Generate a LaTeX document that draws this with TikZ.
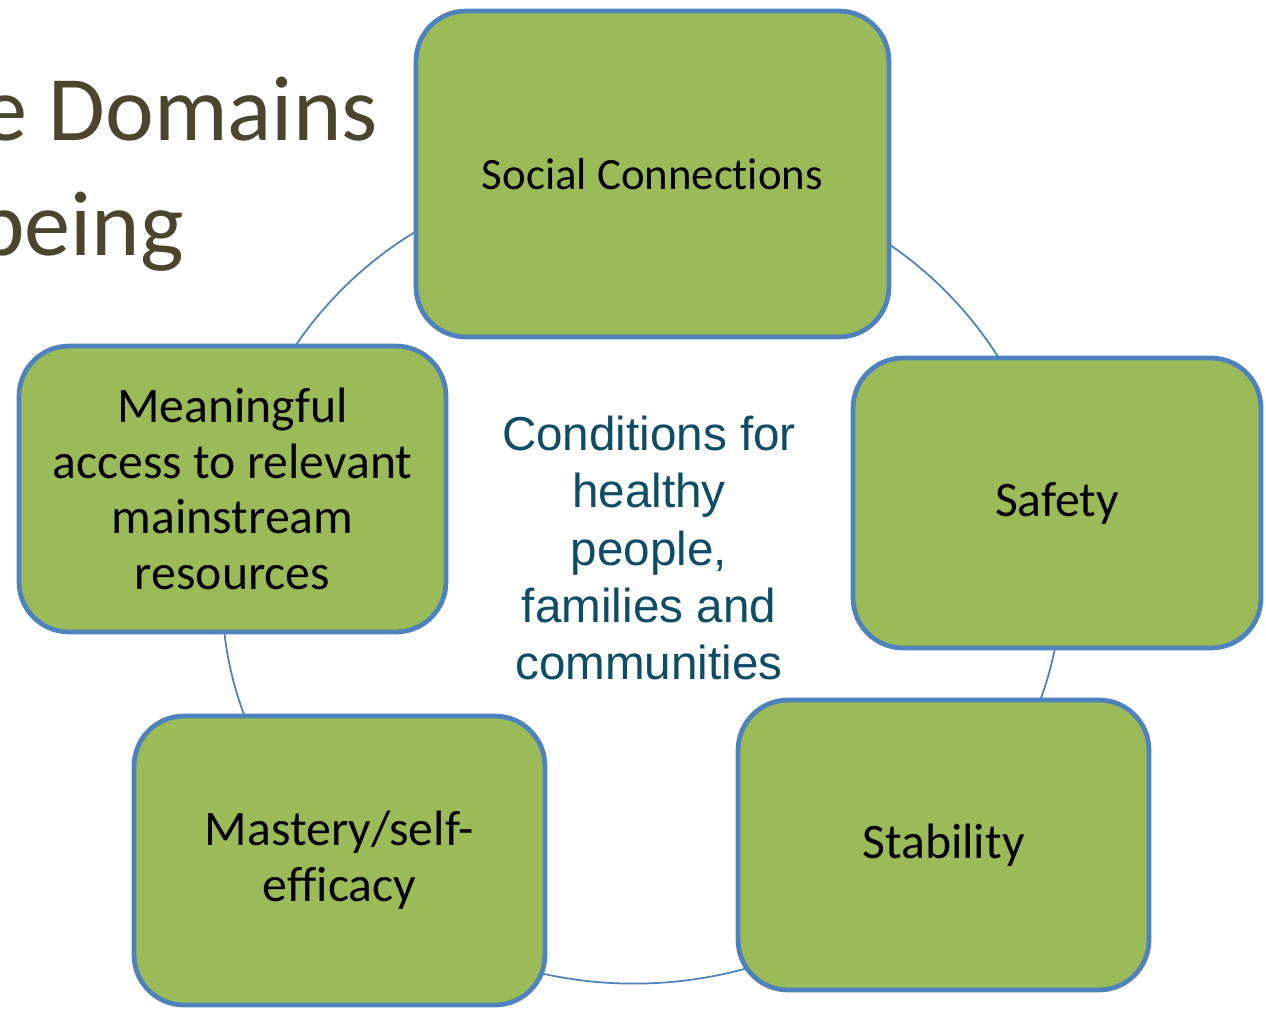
\documentclass[tikz,border=0pt]{standalone}
\usepackage{fontspec}
\setmainfont{Carlito}[Ligatures=NoCommon]
\newfontfamily\arialfont{Liberation Sans}
\usetikzlibrary{backgrounds}
\definecolor{boxgreen}{HTML}{9BBB59}
\definecolor{boxblue}{HTML}{4F81BD}
\definecolor{titleolive}{HTML}{4A452C}
\definecolor{centerteal}{HTML}{0E4C66}

\begin{document}
\begin{tikzpicture}[x=0.02cm, y=-0.02cm,
  domainbox/.style={draw=boxblue, fill=boxgreen, line width=2.7pt,
    rounded corners=1cm, align=center, inner sep=0pt, text=black,
    font=\fontsize{28.3}{31.7}\selectfont},
  link/.style={draw=boxblue, line width=1pt, bend left=#1},
  titletext/.style={anchor=base east, inner sep=0pt, text=titleolive,
    font=\fontsize{52.5}{60}\selectfont},
]
\useasboundingbox (0,0) rectangle (1266,1009);
\clip (0,0) rectangle (1266,1009);

% slide title, running off the left edge
\node[titletext] (title1) at (378,140) {e Domains};
\node[titletext] (title2) at (184,255) {being};

% the five domains
\node[domainbox, minimum width=9.46cm, minimum height=6.52cm,
  font=\fontsize{25.5}{30}\selectfont] (soc) at (652.5,174) {Social Connections};
\node[domainbox, minimum width=8.16cm, minimum height=5.8cm] (saf) at (1057,503) {Safety};
\node[domainbox, minimum width=8.22cm, minimum height=5.8cm] (stab) at (943.5,845) {Stability};
\node[domainbox, minimum width=8.22cm, minimum height=5.78cm] (mast) at (339.5,860.5) {Mastery/self-\\efficacy};
\node[domainbox, minimum width=8.54cm, minimum height=5.72cm] (mean) at (232.5,489)
  {Meaningful\\access to relevant\\mainstream\\resources};

% centre statement
\node[align=center, inner sep=0pt, text=centerteal,
  font=\arialfont\fontsize{27.1}{32.6}\selectfont] (centre) at (649,548)
  {Conditions for\\healthy\\people,\\families and\\communities};

% white slide, then the cycle arcs running behind the boxes
\begin{pgfonlayer}{background}
\fill[white] (0,0) rectangle (1266,1009);
\draw[link=39] (soc.center) to (saf.center);
\draw[link=26] (saf.center) to (stab.center);
\draw[link=47.5] (stab.center) to (mast.center);
\draw[link=27.5] (mast.center) to (mean.center);
\draw[link=39.5] (mean.center) to (soc.center);
\end{pgfonlayer}
\end{tikzpicture}
\end{document}
